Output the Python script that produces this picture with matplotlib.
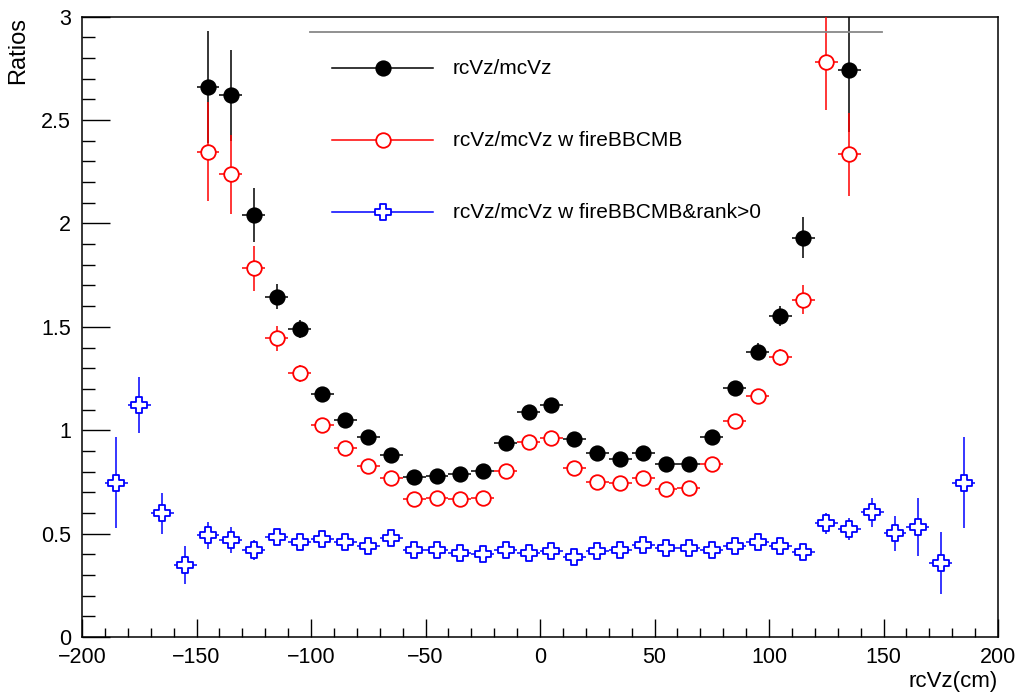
import numpy as np
import matplotlib
matplotlib.use("Agg")
import matplotlib.pyplot as plt
from matplotlib.path import Path
from matplotlib.ticker import MultipleLocator

plt.rcParams['font.family'] = ['Liberation Sans', 'DejaVu Sans']

# bin centres of rcVz (cm), 10 cm bins
vz_centers = list(range(-185, 190, 10))
vz_halfwidth = 5.0

nan = np.nan
# rcVz/mcVz
ratio_all = [nan, nan, nan, nan,
             2.66, 2.62, 2.04, 1.645, 1.49, 1.175, 1.05, 0.966, 0.88, 0.772,
             0.78, 0.788, 0.803, 0.937, 1.09, 1.122, 0.956, 0.891, 0.859, 0.891,
             0.835, 0.835, 0.969, 1.203, 1.38, 1.552, 1.931, nan, 2.74,
             nan, nan, nan, nan, nan]
err_all = [nan, nan, nan, nan,
           0.27, 0.22, 0.13, 0.06, 0.045, 0.035, 0.03, 0.03, 0.03, 0.025,
           0.025, 0.025, 0.025, 0.03, 0.03, 0.03, 0.03, 0.025, 0.025, 0.025,
           0.025, 0.025, 0.03, 0.035, 0.04, 0.05, 0.10, nan, 0.30,
           nan, nan, nan, nan, nan]

# rcVz/mcVz w fireBBCMB
ratio_bbc = [nan, nan, nan, nan,
             2.347, 2.237, 1.783, 1.444, 1.275, 1.024, 0.915, 0.827, 0.77, 0.666,
             0.671, 0.666, 0.674, 0.803, 0.944, 0.961, 0.819, 0.751, 0.746, 0.77,
             0.714, 0.722, 0.835, 1.045, 1.165, 1.352, 1.63, 2.78, 2.335,
             nan, nan, nan, nan, nan]
err_bbc = [nan, nan, nan, nan,
           0.24, 0.19, 0.11, 0.06, 0.04, 0.03, 0.03, 0.025, 0.025, 0.02,
           0.02, 0.02, 0.02, 0.025, 0.025, 0.025, 0.025, 0.02, 0.02, 0.02,
           0.02, 0.02, 0.025, 0.03, 0.035, 0.04, 0.07, 0.23, 0.20,
           nan, nan, nan, nan, nan]

# rcVz/mcVz w fireBBCMB&rank>0
ratio_rank = [0.746, 1.122, 0.598, 0.348,
              0.493, 0.469, 0.421, 0.482, 0.461, 0.474, 0.461, 0.442, 0.477, 0.421,
              0.421, 0.405, 0.401, 0.421, 0.405, 0.416, 0.385, 0.416, 0.421, 0.445,
              0.429, 0.429, 0.421, 0.442, 0.461, 0.442, 0.41, 0.55, 0.522,
              0.603, 0.501, 0.533, 0.356, 0.746]
err_rank = [0.22, 0.134, 0.10, 0.09,
            0.065, 0.065, 0.05, 0.03, 0.03, 0.025, 0.025, 0.025, 0.025, 0.02,
            0.02, 0.02, 0.02, 0.02, 0.02, 0.02, 0.02, 0.02, 0.02, 0.02,
            0.02, 0.02, 0.02, 0.02, 0.025, 0.025, 0.03, 0.05, 0.055,
            0.07, 0.085, 0.14, 0.15, 0.22]

legend_labels = ["rcVz/mcVz", "rcVz/mcVz w fireBBCMB", "rcVz/mcVz w fireBBCMB&rank>0"]

# open-cross marker outline
a = 0.36
cross_verts = [(-a, 1), (a, 1), (a, a), (1, a), (1, -a), (a, -a), (a, -1),
               (-a, -1), (-a, -a), (-1, -a), (-1, a), (-a, a), (-a, 1)]
open_cross = Path(cross_verts, [Path.MOVETO] + [Path.LINETO] * 11 + [Path.CLOSEPOLY])

W, H = 1019, 695
fig = plt.figure(figsize=(W / 100, H / 100), dpi=100)
L, R, T, B = 82, 998, 16.7, 637
ax = fig.add_axes([L / W, (H - B) / H, (R - L) / W, (B - T) / H])

styles = [
    dict(color='black', marker='o', mfc='black', mec='black', ms=10.5, mew=1.2),
    dict(color='red', marker='o', mfc='white', mec='red', ms=10.5, mew=1.3),
    dict(color='blue', marker=open_cross, mfc='white', mec='blue', ms=11, mew=1.3),
]
series = [(ratio_all, err_all), (ratio_bbc, err_bbc), (ratio_rank, err_rank)]

x = np.array(vz_centers, dtype=float)
for k, ((vals, errs), st) in enumerate(zip(series, styles)):
    v = np.array(vals, dtype=float)
    e = np.array(errs, dtype=float)
    ok = ~np.isnan(v)
    ax.errorbar(x[ok], v[ok], yerr=e[ok], xerr=vz_halfwidth, fmt='none',
                ecolor=st['color'], elinewidth=1.1, capsize=0, zorder=2 + 2 * k)
    ax.plot(x[ok], v[ok], ls='none', marker=st['marker'], ms=st['ms'],
            mfc=st['mfc'], mec=st['mec'], mew=st['mew'], zorder=3 + 2 * k)

ax.set_xlim(-200, 200)
ax.set_ylim(0, 3)
ax.xaxis.set_major_locator(MultipleLocator(50))
ax.xaxis.set_minor_locator(MultipleLocator(10))
ax.yaxis.set_major_locator(MultipleLocator(0.5))
ax.yaxis.set_minor_locator(MultipleLocator(0.1))
ax.yaxis.set_major_formatter(matplotlib.ticker.FuncFormatter(lambda v, p: f"{v:g}"))
ax.tick_params(axis='both', which='both', direction='in', top=False, right=False,
               labelsize=15.5, width=1.0, color='black')
ax.tick_params(axis='x', which='major', length=13, pad=7)
ax.tick_params(axis='x', which='minor', length=6.5)
ax.tick_params(axis='y', which='major', length=20, pad=8)
ax.tick_params(axis='y', which='minor', length=9.5)
for s in ax.spines.values():
    s.set_linewidth(1.1)

ax.set_xlabel("rcVz(cm)", loc='right', fontsize=16)
ax.xaxis.set_label_coords(1.0, -0.055)
ax.set_ylabel("Ratios", loc='top', fontsize=17)
ax.yaxis.set_label_coords(-0.058, 1.0)

# legend block
def fx(px):
    return (px - L) / (R - L)

def fy(py):
    return (B - py) / (B - T)

ax.plot([fx(310), fx(882)], [fy(32), fy(32)], color='#888888', lw=1.3,
        transform=ax.transAxes, clip_on=False, zorder=10)
rows = [68, 140, 212]
for st, label, py in zip(styles, legend_labels, rows):
    ax.plot([fx(332), fx(433)], [fy(py), fy(py)], color=st['color'], lw=1.1,
            transform=ax.transAxes, zorder=10)
    ax.plot([fx(383)], [fy(py)], ls='none', marker=st['marker'], ms=st['ms'],
            mfc=st['mfc'], mec=st['mec'], mew=st['mew'], transform=ax.transAxes, zorder=11)
    ax.text(fx(453), fy(py), label, transform=ax.transAxes, fontsize=15,
            va='center', ha='left', zorder=11)

fig.savefig("out.png", dpi=100)
